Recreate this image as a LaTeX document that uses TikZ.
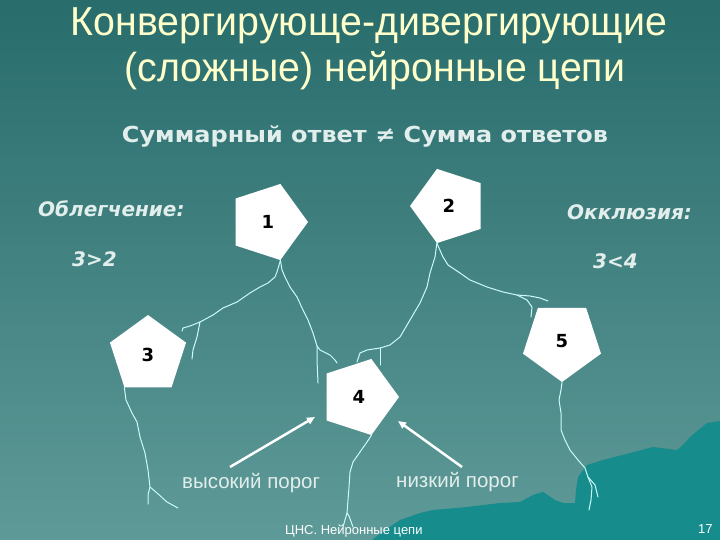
\documentclass[tikz,border=0pt]{standalone}
\usepackage{fontspec}
\setmainfont{Liberation Sans}
\newfontfamily\titlefont[FakeStretch=0.97]{Liberation Sans}
\newfontfamily\vfont{DejaVu Sans}
\newfontfamily\subfont[FakeStretch=1.09]{DejaVu Sans}
\usetikzlibrary{shapes.geometric,arrows.meta}
\definecolor{bgtop}{RGB}{40,108,108}
\definecolor{bgbot}{RGB}{94,154,152}
\definecolor{wave}{RGB}{22,140,140}
\definecolor{titlecol}{RGB}{255,255,204}
\definecolor{txtcol}{RGB}{226,238,236}
\definecolor{axoncol}{RGB}{204,250,250}
\begin{document}
\begin{tikzpicture}[x=1pt,y=-1pt,
  pent/.style={regular polygon, regular polygon sides=5, fill=white, draw=none,
    inner sep=0pt, font=\vfont\bfseries\fontsize{18}{18}\selectfont, text=black},
  axon/.style={draw=axoncol, line width=1pt, line join=round, line cap=round},
  title/.style={anchor=base, text=titlecol, font=\titlefont\fontsize{40.5}{40.5}\selectfont, inner sep=0pt},
  sub/.style={anchor=base, text=txtcol, font=\subfont\bfseries\fontsize{22}{22}\selectfont, inner sep=0pt},
  lab/.style={anchor=base west, text=txtcol, font=\vfont\bfseries\itshape\fontsize{20}{20}\selectfont, inner sep=0pt},
  thr/.style={anchor=base west, text=txtcol, font=\fontsize{20.5}{20.5}\selectfont, inner sep=0pt},
  foot/.style={anchor=base west, text=white, font=\fontsize{13}{13}\selectfont, inner sep=0pt},
  pointer/.style={draw=white, line width=2.5pt, -{Triangle[length=8pt,width=7pt]}}
]
\useasboundingbox (0,0) rectangle (720,540);
\shade[top color=bgtop, bottom color=bgbot] (0,0) rectangle (720,540);
% darker wave region bottom right
\fill[wave] (372,540) -- (385,530) -- (400,520) -- (420,513) -- (433,510) -- (467,507)
  -- (500,503) -- (520,502) -- (533,495) -- (543,492) -- (555,500) -- (563,503) -- (575,503)
  -- (576,490) -- (578,477) -- (587,465) -- (603,460) -- (630,453) -- (653,447) -- (677,450)
  -- (683,445) -- (690,437) -- (707,423) -- (720,421) -- (720,540) -- cycle;

% titles
\node[title] (t1) at (369,36) {Конвергирующе-дивергирующие};
\node[title] (t2) at (375,82) {(сложные) нейронные цепи};
\node[sub] (st) at (365,143) {Суммарный ответ ≠ Сумма ответов};
\node[lab] (fac) at (38,217) {Облегчение:};
\node[lab] (fr) at (72,266) {3>2};
\node[lab] (occ) at (567,220) {Окклюзия:};
\node[lab] (or) at (593,268) {3<4};

% neurons
\node[pent, minimum size=80pt, shape border rotate=-90] (p1) at (268,222) {1};
\node[pent, minimum size=78pt, shape border rotate=90] (p2) at (449,206) {2};
\node[pent, minimum size=80pt] (p3) at (148,355) {3};
\node[pent, minimum size=80pt, shape border rotate=-90] (p4) at (359,397) {4};
\node[pent, minimum size=82pt, shape border rotate=180] (p5) at (562,341) {5};

% branch points
\coordinate (b1) at (200,322);
\coordinate (b2) at (317,346);
\coordinate (b3) at (380,348);
\coordinate (b4) at (517,295);
\coordinate (b5) at (150,487);
\coordinate (b6) at (347,513);
\coordinate (b7) at (588,477);

% axon of 1 towards 3
\draw[axon] (p1.corner 5) -- (277,272) -- (275,277) -- (268,283) -- (260,287) -- (250,293)
  -- (237,302) -- (223,308) -- (213,315) -- (b1) -- (190,326) -- (183,328) -- (182,331);
\draw[axon] (b1) -- (197,337) -- (193,350) -- (192,359);
% axon of 1 towards 4
\draw[axon] (p1.corner 5) -- (282,270) -- (285,277) -- (290,287) -- (297,297) -- (303,310)
  -- (308,320) -- (313,333) -- (b2) -- (320,350) -- (330,355) -- (335,360) -- (337,363);
\draw[axon] (b2) -- (317,360) -- (318,383);
% axon of 2 towards 4
\draw[axon] (p2.corner 2) -- (435,257) -- (430,273) -- (427,287) -- (420,303) -- (410,320)
  -- (400,337) -- (390,345) -- (b3) -- (367,350) -- (360,353) -- (357,362);
\draw[axon] (b3) -- (380,365);
% axon of 2 towards 5
\draw[axon] (p2.corner 2) -- (443,257) -- (448,265) -- (460,273) -- (470,280) -- (487,287)
  -- (503,292) -- (b4) -- (530,296) -- (540,298) -- (548,301);
\draw[axon] (b4) -- (527,300) -- (532,307) -- (531,317);
% axon of 3
\draw[axon] (p3.corner 3) -- (126,400) -- (132,413) -- (137,422) -- (140,437) -- (145,453)
  -- (148,470) -- (b5) -- (148,495) -- (148,504);
\draw[axon] (b5) -- (157,493) -- (167,502) -- (178,508);
% axon of 4
\draw[axon] (p4.corner 5) -- (367,442) -- (360,452) -- (353,462) -- (350,472) -- (349,487)
  -- (348,500) -- (b6) -- (343,527);
\draw[axon] (b6) -- (349,516) -- (353,527);
% axon of 5
\draw[axon] (p5.corner 1) -- (561,390) -- (559,400) -- (561,413) -- (561,430) -- (565,440)
  -- (570,450) -- (578,460) -- (585,468) -- (b7) -- (592,487) -- (591,500) -- (589,510);
\draw[axon] (b7) -- (595,485) -- (598,497);

% thresholds
\node[thr] (hi) at (182,488) {высокий порог};
\node[thr] (lo) at (396,487) {низкий порог};
\coordinate (hiarr) at (230,467);
\coordinate (loarr) at (462,467);
\coordinate (hitip) at (315,417);
\coordinate (lotip) at (398,421);
\draw[pointer] (hiarr) -- (hitip);
\draw[pointer] (loarr) -- (lotip);

% footer
\node[foot] (ft) at (285,534) {ЦНС. Нейронные цепи};
\node[foot] (pg) at (698,533) {17};
\end{tikzpicture}
\end{document}
